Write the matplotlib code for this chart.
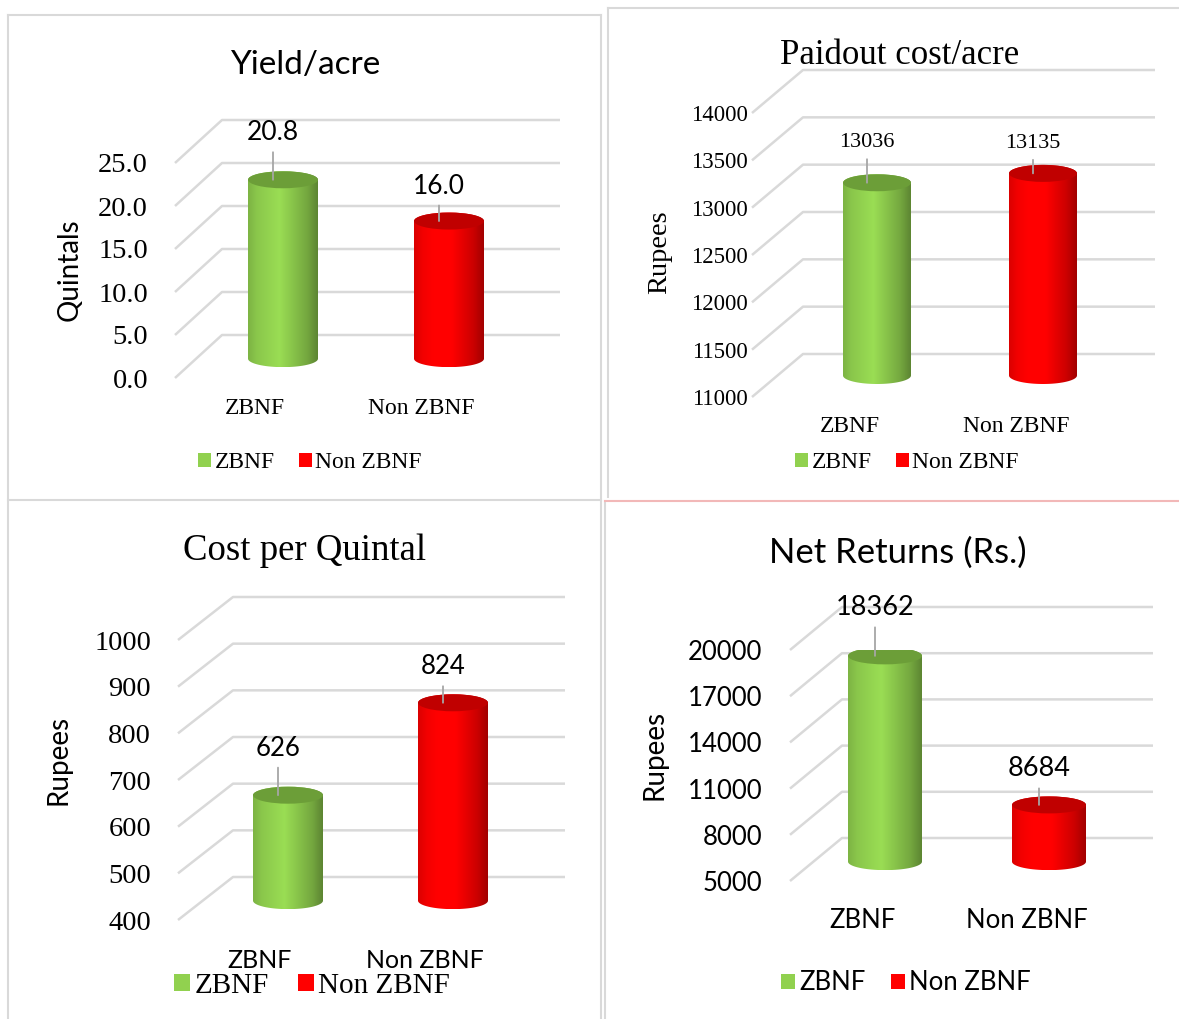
import numpy as np
import matplotlib
matplotlib.use('Agg')
import matplotlib.pyplot as plt
from matplotlib.patches import Ellipse, PathPatch, Patch
from matplotlib.path import Path
from matplotlib.lines import Line2D

W, H = 1179, 1019
SERIF = 'Liberation Serif'
SANS = 'Lato'

# data
categories = ['ZBNF', 'Non ZBNF']
yield_acre = [20.8, 16.0]
paidout_cost = [13036, 13135]
cost_per_quintal = [626, 824]
net_returns = [18362, 8684]

yield_ticks = [0, 5, 10, 15, 20, 25]
paidout_ticks = [11000, 11500, 12000, 12500, 13000, 13500, 14000]
cpq_ticks = [400, 500, 600, 700, 800, 900, 1000]
net_ticks = [5000, 8000, 11000, 14000, 17000, 20000]

bar_colors = [(0.57, 0.82, 0.31), (1.0, 0.0, 0.0)]
top_colors = ['#6c9e38', '#c00000']
grid_color = '#d9d9d9'
leader_color = '#a6a6a6'


def fx(px):
    return px / W


def fy(py):
    return 1 - py / H


def cylinder(ax, xc, base, top, w, e, rgb, top_color):
    t = np.linspace(0, 1, 80)
    shade = np.interp(t, [0, 0.12, 0.45, 0.85, 1], [0.86, 0.95, 1.06, 0.8, 0.64])
    row = np.clip(np.array(rgb)[None, :] * shade[:, None], 0, 1)[None, :, :]
    th1 = np.linspace(np.pi, 2 * np.pi, 40)
    th2 = np.linspace(0, np.pi, 40)
    xs = np.concatenate([xc + w / 2 * np.cos(th1), xc + w / 2 * np.cos(th2)])
    ys = np.concatenate([base + e / 2 * np.sin(th1), top + e / 2 * np.sin(th2)])
    verts = np.column_stack([np.append(xs, xs[0]), np.append(ys, ys[0])])
    clip = PathPatch(Path(verts, closed=True), transform=ax.transData,
                     facecolor='none', edgecolor='none')
    im = ax.imshow(row, extent=(xc - w / 2, xc + w / 2, base - e / 2, top + e / 2),
                   aspect='auto', interpolation='bilinear', zorder=3)
    im.set_clip_path(clip)
    ax.add_patch(Ellipse((xc, top), w, e, facecolor=top_color,
                         edgecolor='none', zorder=4))


def panel(fig, s, values, ticks, fmt, title, ylabel):
    ax = fig.add_axes([fx(s['left']), fy(s['y_lo']),
                       (s['right'] - s['left']) / W, (s['y_lo'] - s['y_hi']) / H])
    ax.set_autoscale_on(False)
    xpu = s['c1'] - s['c0']
    ypu = (s['y_lo'] - s['y_hi']) / (ticks[-1] - ticks[0])
    x0 = (s['left'] - s['c0']) / xpu
    x1 = (s['right'] - s['c0']) / xpu
    ax.set_xlim(x0, x1)
    ax.set_ylim(ticks[0], ticks[-1])
    ax.axis('off')
    dx_u = s['dx'] / xpu
    dy_u = s['dy'] / ypu
    w_u = s['barw'] / xpu
    e_u = 17 / ypu
    f = s['f']
    lab_dx = 10 / xpu

    for t in ticks:
        ax.plot([x0, x0 + dx_u, x1], [t, t + dy_u, t + dy_u], color=grid_color,
                lw=1.8, clip_on=False, zorder=1, solid_capstyle='butt')
        ax.text((s['tick_x'] - s['c0']) / xpu, t, fmt.format(t), ha='right',
                va='center_baseline', family=s['tick_font'], fontsize=s['tick_size'],
                clip_on=False)

    base = ticks[0] + f * dy_u
    for i, v in enumerate(values):
        top = v + f * dy_u
        cylinder(ax, i, base, top, w_u, e_u, bar_colors[i], top_colors[i])
        ax.annotate(fmt.format(v), xy=(i - lab_dx, top), xytext=(0, s['val_off'][i]),
                    textcoords='offset pixels', ha='center', va='center',
                    family=s['val_font'], fontsize=s['val_size'], zorder=6,
                    arrowprops=dict(arrowstyle='-', color=leader_color, lw=1.3,
                                    shrinkA=3, shrinkB=0))
        ax.annotate(categories[i], xy=(i - s['cat_shift'] / xpu, ticks[0]),
                    xytext=(0, -(s['cat_y'] - s['y_lo'])), textcoords='offset pixels',
                    ha='center', va='center', family=s['cat_font'], fontsize=s['cat_size'])

    fig.text(fx(s['title_xy'][0]), fy(s['title_xy'][1]), title, ha='center',
             va='center_baseline', family=s['title_font'], fontsize=s['title_size'])
    fig.text(fx(s['ylab_xy'][0]), fy(s['ylab_xy'][1]), ylabel, ha='center', va='center',
             rotation=90, family=s['ylab_font'], fontsize=s['ylab_size'])
    handles = [Patch(facecolor=c, edgecolor='none') for c in bar_colors]
    fig.legend(handles, categories, loc='center',
               bbox_to_anchor=(fx(s['leg_xy'][0]), fy(s['leg_xy'][1])), ncol=2,
               frameon=False, handlelength=0.55, handleheight=0.55, handletextpad=0.15,
               columnspacing=1.0, prop={'family': s['leg_font'], 'size': s['leg_size']})


fig = plt.figure(figsize=(W / 100, H / 100), dpi=100)

tl = dict(left=175, right=560, y_lo=378, y_hi=163, dx=47, dy=43, c0=283, c1=449,
          barw=70, f=0.45, tick_x=148, tick_font=SERIF, tick_size=20.5,
          val_font=SANS, val_size=19, val_off=[47, 35], cat_y=408, cat_shift=28,
          cat_font=SERIF, cat_size=17, title_xy=(305, 62), title_font=SANS, title_size=24,
          ylab_xy=(70, 270), ylab_font=SANS, ylab_size=20, leg_xy=(310, 463),
          leg_font=SERIF, leg_size=17)
tr = dict(left=752, right=1155, y_lo=397, y_hi=113, dx=51, dy=43, c0=877, c1=1043,
          barw=68, f=0.5, tick_x=748, tick_font=SERIF, tick_size=16.5,
          val_font=SERIF, val_size=16, val_off=[40, 30], cat_y=426, cat_shift=27,
          cat_font=SERIF, cat_size=17, title_xy=(900, 52), title_font=SERIF, title_size=25,
          ylab_xy=(660, 252), ylab_font=SERIF, ylab_size=20.5, leg_xy=(907, 463),
          leg_font=SERIF, leg_size=17)
bl = dict(left=178, right=565, y_lo=920, y_hi=640, dx=55, dy=43, c0=288, c1=453,
          barw=70, f=0.45, tick_x=151, tick_font=SERIF, tick_size=20.5,
          val_font=SANS, val_size=18.5, val_off=[47, 36], cat_y=960, cat_shift=28,
          cat_font=SANS, cat_size=18, title_xy=(305, 547), title_font=SERIF,
          title_size=26.5, ylab_xy=(58, 760), ylab_font=SANS, ylab_size=20,
          leg_xy=(312, 986), leg_font=SERIF, leg_size=21)
br = dict(left=790, right=1153, y_lo=881, y_hi=650, dx=52, dy=43, c0=885, c1=1049,
          barw=74, f=0.45, tick_x=762, tick_font=SANS, tick_size=18.5,
          val_font=SANS, val_size=19.5, val_off=[48, 36], cat_y=920, cat_shift=22,
          cat_font=SANS, cat_size=18.5, title_xy=(898, 550), title_font=SANS,
          title_size=25, ylab_xy=(654, 755), ylab_font=SANS, ylab_size=20,
          leg_xy=(906, 983), leg_font=SANS, leg_size=18.5)

panel(fig, tl, yield_acre, yield_ticks, '{:.1f}', 'Yield/acre', 'Quintals')
panel(fig, tr, paidout_cost, paidout_ticks, '{:.0f}', 'Paidout cost/acre', 'Rupees')
panel(fig, bl, cost_per_quintal, cpq_ticks, '{:.0f}', 'Cost per Quintal', 'Rupees')
panel(fig, br, net_returns, net_ticks, '{:.0f}', 'Net Returns (Rs.)', 'Rupees')

# panel frames
frames = [((8, 15), (8, 1019)), ((601, 15), (601, 1019)), ((8, 15), (601, 15)),
          ((8, 500), (601, 500)), ((608, 8), (1179, 8)), ((608, 8), (608, 497)),
          ((605, 501), (605, 1019))]
for (xa, ya), (xb, yb) in frames:
    fig.add_artist(Line2D([fx(xa), fx(xb)], [fy(ya), fy(yb)], color=grid_color,
                          lw=1.5, transform=fig.transFigure))
fig.add_artist(Line2D([fx(605), fx(1179)], [fy(501), fy(501)], color='#f2b8b8',
                      lw=1.5, transform=fig.transFigure))

fig.savefig('out.png', dpi=100)
